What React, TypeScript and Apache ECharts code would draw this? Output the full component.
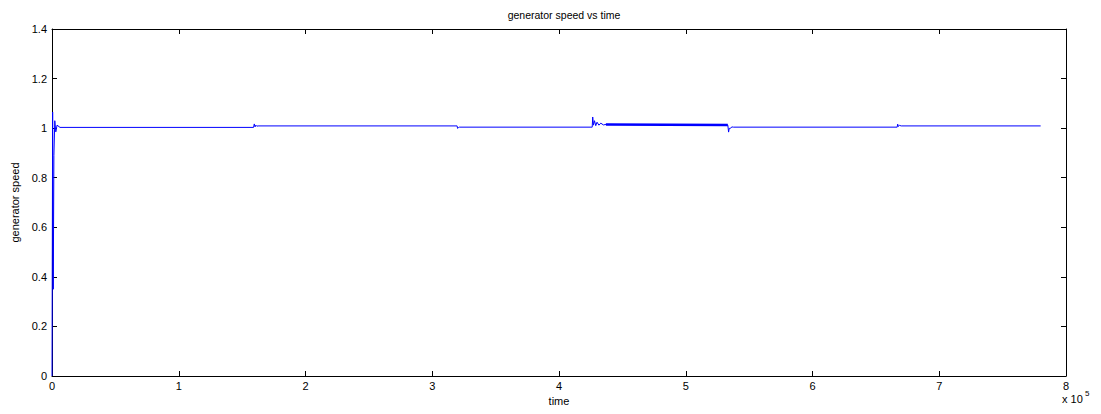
import React, { useEffect, useRef } from "react";
import * as echarts from "echarts";

// time in seconds
const timeSec: number[] = [
  0, 500, 1000, 1500, 2200, 3000, 4000, 6300,
  159000, 159600, 160200, 160800, 161600, 162600,
  319600, 320000, 320600, 321400,
  426200, 426600, 427200, 428000, 429000, 430000, 431500, 433000, 435000, 437000,
  533200, 533800, 534300, 535000, 536500, 537500,
  666800, 667200, 667800, 668600, 670000,
  780000,
];
const speed: number[] = [
  0, 1.065, 0.35, 0.89, 1.03, 0.985, 1.012, 1.003,
  1.003, 1.017, 1.005, 1.012, 1.008, 1.009,
  1.009, 0.999, 1.002, 1.004,
  1.004, 1.045, 1.012, 1.03, 1.01, 1.024, 1.012, 1.02, 1.013, 1.015,
  1.012, 0.984, 0.999, 0.999, 1.005, 1.004,
  1.004, 1.016, 1.007, 1.011, 1.009,
  1.009,
];
// thick oscillating band between the 4.3e5 and 5.3e5 events
const bandTime: number[] = [437000, 533200];
const bandSpeed: number[] = [1.0145, 1.0125];

const xTicks = [0, 1, 2, 3, 4, 5, 6, 7, 8];
const yTicks = [0, 0.2, 0.4, 0.6, 0.8, 1, 1.2, 1.4];

export default function App() {
  const ref = useRef<HTMLDivElement>(null);
  useEffect(() => {
    if (!ref.current) return;
    const chart = echarts.init(ref.current, null, { renderer: "svg" });
    const font = "'Liberation Sans', Arial, sans-serif";
    const axisCommon = {
      axisLine: { show: true, onZero: false, lineStyle: { color: "#000", width: 1 } },
      axisTick: { show: true, inside: true, length: 5, lineStyle: { color: "#000" } },
      splitLine: { show: false },
    };
    chart.setOption({
      animation: false,
      backgroundColor: "#fff",
      title: {
        text: "generator speed vs time",
        left: 559,
        top: 4,
        textAlign: "center",
        textStyle: { fontFamily: font, fontSize: 10.5, fontWeight: "normal", color: "#000" },
      },
      grid: { left: 52, right: 35, top: 29, bottom: 38, containLabel: false },
      xAxis: [
        {
          type: "value",
          min: 0,
          max: 800000,
          interval: 100000,
          name: "time",
          nameLocation: "middle",
          nameGap: 15,
          nameTextStyle: { fontFamily: font, fontSize: 11, color: "#000" },
          ...axisCommon,
          axisLabel: {
            margin: 4,
            fontFamily: font,
            fontSize: 11,
            color: "#000",
            formatter: (v: number) => {
              const t = Math.round(v / 100000);
              return xTicks.includes(t) ? String(t) : "";
            },
          },
        },
        {
          type: "value",
          position: "top",
          min: 0,
          max: 800000,
          interval: 100000,
          ...axisCommon,
          axisLabel: { show: false },
        },
      ],
      yAxis: [
        {
          type: "value",
          min: 0,
          max: 1.4,
          interval: 0.2,
          name: "generator speed",
          nameLocation: "middle",
          nameGap: 31,
          nameTextStyle: { fontFamily: font, fontSize: 11, color: "#000" },
          ...axisCommon,
          axisLabel: {
            margin: 5,
            fontFamily: font,
            fontSize: 11,
            color: "#000",
            formatter: (v: number) => {
              const r = Math.round(v * 10) / 10;
              return yTicks.some((y) => Math.abs(y - r) < 1e-9) ? String(r) : "";
            },
          },
        },
        {
          type: "value",
          position: "right",
          min: 0,
          max: 1.4,
          interval: 0.2,
          ...axisCommon,
          axisLabel: { show: false },
        },
      ],
      series: [
        {
          type: "line",
          data: timeSec.map((t, i) => [t, speed[i]]),
          showSymbol: false,
          symbol: "none",
          lineStyle: { color: "#0000ff", width: 1 },
        },
        {
          type: "line",
          data: bandTime.map((t, i) => [t, bandSpeed[i]]),
          showSymbol: false,
          symbol: "none",
          lineStyle: { color: "#0000ff", width: 2.5 },
        },
      ],
      graphic: [
        {
          type: "text",
          left: 1062,
          top: 393,
          style: { text: "x 10", fontFamily: font, fontSize: 11, fill: "#000" },
        },
        {
          type: "text",
          left: 1085,
          top: 389,
          style: { text: "5", fontFamily: font, fontSize: 8, fill: "#000" },
        },
      ],
    });
    return () => chart.dispose();
  }, []);
  return <div ref={ref} style={{ width: 1101, height: 414, margin: -8 }} />;
}
